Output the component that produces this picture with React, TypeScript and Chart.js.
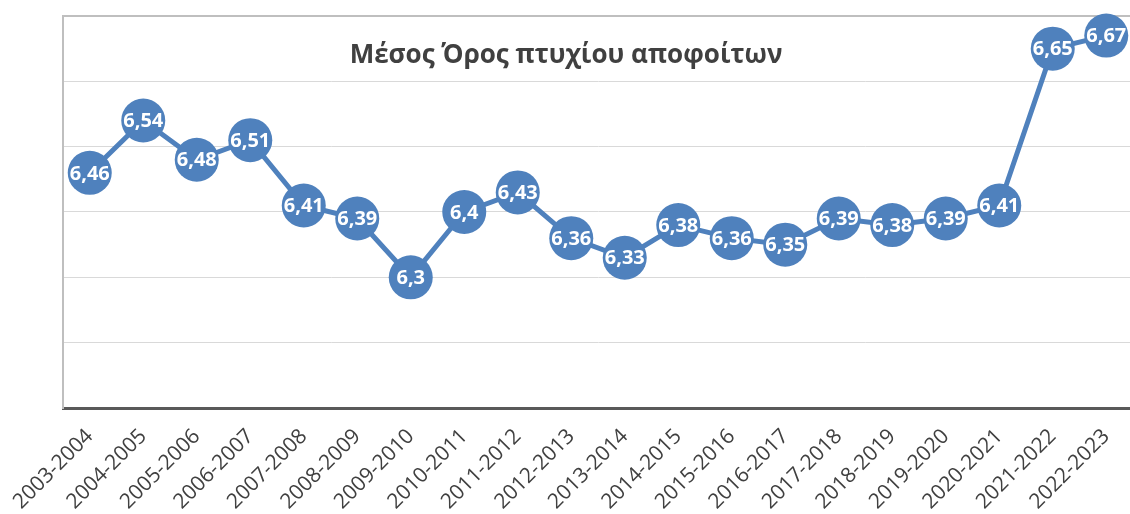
import React, { useEffect, useRef } from "react";
import { Chart, registerables } from "chart.js";

Chart.register(...registerables);

const categories = [
  "2003-2004", "2004-2005", "2005-2006", "2006-2007", "2007-2008",
  "2008-2009", "2009-2010", "2010-2011", "2011-2012", "2012-2013",
  "2013-2014", "2014-2015", "2015-2016", "2016-2017", "2017-2018",
  "2018-2019", "2019-2020", "2020-2021", "2021-2022", "2022-2023",
];
const values = [
  6.46, 6.54, 6.48, 6.51, 6.41, 6.39, 6.3, 6.4, 6.43, 6.36,
  6.33, 6.38, 6.36, 6.35, 6.39, 6.38, 6.39, 6.41, 6.65, 6.67,
];
const titleText = "Μέσος Όρος πτυχίου αποφοίτων";
const yMin = 6.1;
const yMax = 6.7;
const yStep = 0.1;

const BLUE = "#4f81bd";

const overlayPlugin = {
  id: "overlay",
  afterDatasetsDraw(chart: any) {
    const ctx = chart.ctx;
    const meta = chart.getDatasetMeta(0);
    ctx.save();
    ctx.fillStyle = "#ffffff";
    ctx.font = "bold 20px 'Open Sans'";
    ctx.textAlign = "center";
    ctx.textBaseline = "middle";
    meta.data.forEach((el: any, i: number) => {
      const v = values[i];
      ctx.fillText(String(v).replace(".", ","), el.x, el.y + 1);
    });
    ctx.fillStyle = "#404040";
    ctx.font = "bold 26px 'Open Sans'";
    ctx.textBaseline = "alphabetic";
    ctx.fillText(titleText, 566, 63);
    ctx.restore();
  },
};

export default function App() {
  const ref = useRef<HTMLCanvasElement | null>(null);
  useEffect(() => {
    if (!ref.current) return;
    const chart = new Chart(ref.current, {
      type: "line",
      data: {
        labels: categories,
        datasets: [
          {
            data: values,
            borderColor: BLUE,
            borderWidth: 5,
            pointRadius: 22,
            pointHoverRadius: 22,
            pointBackgroundColor: BLUE,
            pointBorderColor: BLUE,
            pointBorderWidth: 0,
            tension: 0,
            clip: false as any,
          },
        ],
      },
      options: {
        animation: false,
        responsive: false,
        devicePixelRatio: 1,
        events: [],
        layout: {
          autoPadding: false,
          padding: { left: 63, top: 16, right: 17, bottom: 0 },
        },
        plugins: {
          legend: { display: false },
          tooltip: { enabled: false },
          title: { display: false },
        },
        scales: {
          x: {
            type: "category",
            offset: true,
            grid: { display: false },
            border: { display: true, color: "#595959", width: 3 },
            ticks: {
              autoSkip: false,
              maxRotation: 45,
              minRotation: 45,
              padding: 8,
              color: "#404040",
              font: { family: "'Open Sans'", size: 21 },
            },
            afterFit(scale: any) {
              scale.height = 106;
            },
          },
          y: {
            min: yMin,
            max: yMax,
            ticks: { display: false, stepSize: yStep },
            grid: {
              drawTicks: false,
              color: (c: any) =>
                Math.abs(c.tick.value - yMax) < 1e-6 ? "#bfbfbf" : "#d9d9d9",
              lineWidth: (c: any) =>
                Math.abs(c.tick.value - yMax) < 1e-6 ? 2 : 1,
            },
            border: { display: true, color: "#bfbfbf", width: 2 },
            afterFit(scale: any) {
              scale.width = 0;
              scale.paddingTop = 0;
              scale.paddingBottom = 0;
            },
          },
        },
      },
      plugins: [overlayPlugin],
    });
    return () => chart.destroy();
  }, []);
  return (
    <div
      style={{
        position: "fixed",
        left: 0,
        top: 0,
        width: 1130,
        height: 514,
        overflow: "hidden",
        background: "#ffffff",
      }}
    >
      <canvas ref={ref} width={1150} height={514} style={{ display: "block" }} />
    </div>
  );
}
